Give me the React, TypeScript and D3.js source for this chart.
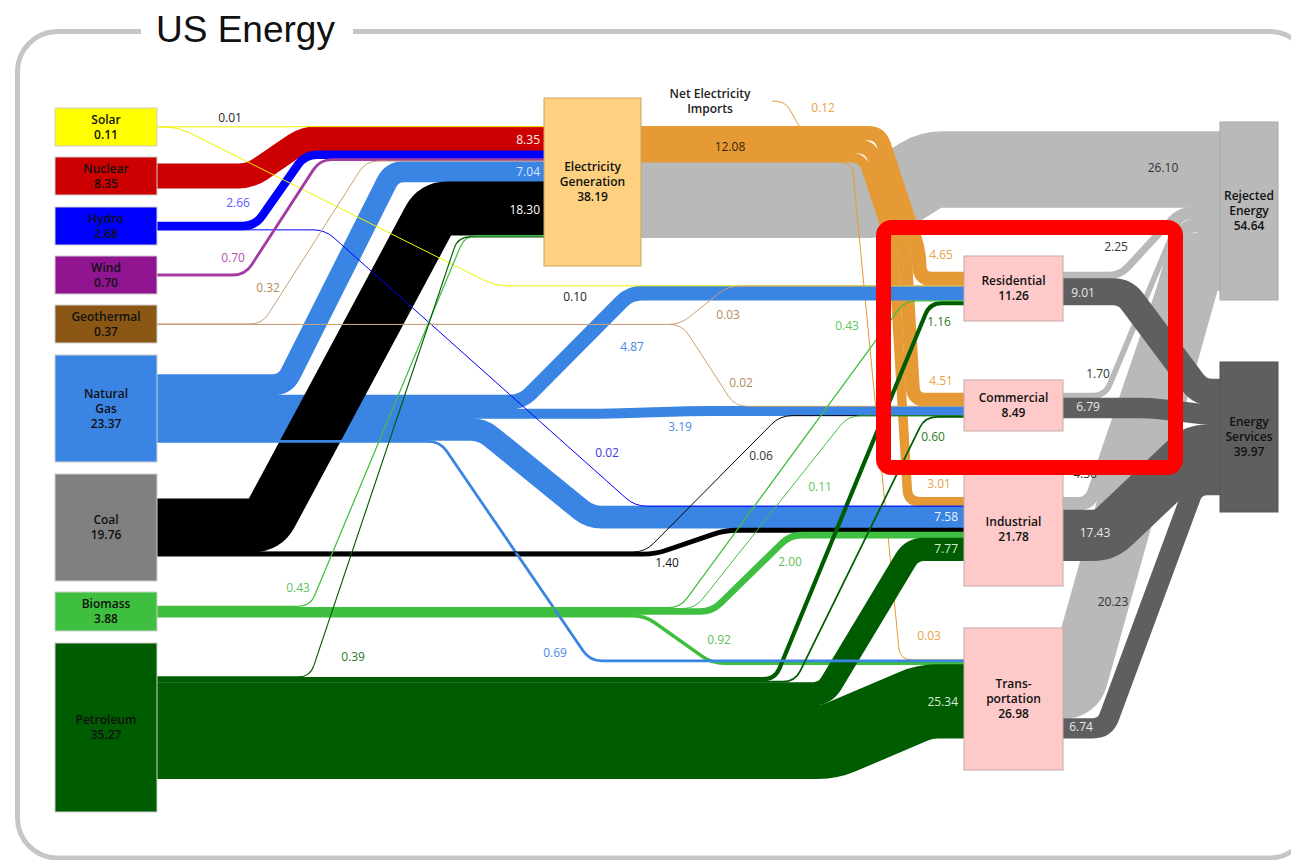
import { useEffect, useRef } from "react";
import * as d3 from "d3";

// quads
const sourceIds = ["solar", "nuclear", "hydro", "wind", "geo", "gas", "coal", "bio", "pet"];
const sourceLabels = [["Solar"], ["Nuclear"], ["Hydro"], ["Wind"], ["Geothermal"], ["Natural", "Gas"], ["Coal"], ["Biomass"], ["Petroleum"]];
const sourceTotals = [0.11, 8.35, 2.68, 0.7, 0.37, 23.37, 19.76, 3.88, 35.27];

const toElectricity = [0.01, 8.35, 2.66, 0.7, 0.32, 7.04, 18.3, 0.43, 0.39];
const toResidential = [0.1, 0, 0, 0, 0.03, 4.87, 0, 0.43, 1.16];
const toCommercial = [0, 0, 0, 0, 0.02, 3.19, 0.06, 0.11, 0.6];
const toIndustrial = [0, 0, 0.02, 0, 0, 7.58, 1.4, 2.0, 7.77];
const toTransportation = [0, 0, 0, 0, 0, 0.69, 0, 0.92, 25.34];

const sectorIds = ["res", "com", "ind", "trans"];
const sectorLabels = [["Residential"], ["Commercial"], ["Industrial"], ["Trans-", "portation"]];
const sectorTotals = [11.26, 8.49, 21.78, 26.98];
const electricityToSectors = [4.65, 4.51, 3.01, 0.03];
const sectorRejected = [2.25, 1.7, 4.36, 20.23];
const sectorServices = [9.01, 6.79, 17.43, 6.74];

const electricityTotal = 38.19;
const electricityRejected = 26.1;
const electricityDelivered = 12.08;
const netImports = 0.12;
const rejectedTotal = 54.64;
const servicesTotal = 39.97;

// layout
const W = 1291;
const H = 860;
const FONT = "'Open Sans', 'DejaVu Sans', sans-serif";
const SRC_X = [55, 157];
const SRC_Y = [[108, 146], [157, 195], [207, 245], [256, 294], [305, 343], [355, 462], [474, 581], [592, 631], [643, 812]];
const ELEC = { x0: 544, x1: 641, y0: 98, y1: 266 };
const SECTOR_X = [964, 1063];
const SECTOR_Y = [[256, 321], [380, 431], [472, 586], [628, 770]];
const SINK_X = [1220, 1278];
const REJ_Y = [122, 300];
const SERV_Y = [362, 512];

const sourceFill = ["#ffff00", "#cc0000", "#0000ff", "#911491", "#8b5714", "#3a85e3", "#808080", "#3fbf3f", "#005c00"];
const sourceFlow = ["#f0f000", "#cc0000", "#0000ff", "#a23ca2", "#c8a078", "#3a85e3", "#000000", "#3fbf3f", "#005c00"];
const sourceText = ["#222", "#fff0f0", "#5a5aff", "#b050b0", "#b48a5a", "#4a8ae6", "#222", "#5cc45c", "#2a7a2a"];
const ORANGE = "#e59a35";
const LIGHT_GRAY = "#b9b9b9";
const DARK_GRAY = "#5f5f5f";

// bend of each flow: x where it leaves its row, x where it reaches the next one,
// optionally a kink (x, y) in between
const ROUTES: Record<string, number[]> = {
  "solar-elec": [290, 300], "solar-res": [178, 495],
  "nuclear-elec": [250, 305],
  "hydro-elec": [255, 305], "hydro-ind": [325, 635],
  "wind-elec": [245, 320],
  "geo-elec": [262, 366], "geo-res": [680, 728], "geo-com": [682, 735],
  "gas-elec": [285, 392], "gas-res": [522, 630], "gas-com": [600, 700], "gas-ind": [482, 590], "gas-trans": [440, 590],
  "coal-elec": [265, 435], "coal-com": [645, 780], "coal-ind": [655, 725],
  "bio-elec": [310, 465], "bio-res": [680, 905], "bio-com": [695, 848], "bio-ind": [712, 790], "bio-trans": [645, 712],
  "pet-elec": [310, 458], "pet-res": [775, 930], "pet-com": [795, 925], "pet-ind": [825, 912], "pet-trans": [830, 925],
  "elec-res": [880, 920, 918.5, 250], "elec-com": [870.4, 913.5, 904.5, 250], "elec-ind": [862.5, 908, 893, 250],
  "elec-trans": [852, 900], "elec-rej": [882, 930],
  "res-rej": [1120, 1180], "res-serv": [1125, 1200],
  "com-rej": [1105, 1180], "com-serv": [1150, 1210],
  "ind-rej": [1090, 1185], "ind-serv": [1105, 1195],
  "trans-rej": [1075, 1195], "trans-serv": [1105, 1195],
};

// value label of each flow: centre x, centre y, anchor, colour
const LABELS: Record<string, [number, number, string?, string?]> = {
  "solar-elec": [230, 118], "solar-res": [575, 297],
  "nuclear-elec": [540, 140, "end"],
  "hydro-elec": [238, 203],
  "hydro-ind": [607, 453, "middle", "#3a3ae6"],
  "wind-elec": [233, 258],
  "geo-elec": [268, 288], "geo-res": [728, 315], "geo-com": [741, 383],
  "gas-elec": [540, 172, "end", "#d6e6ff"], "gas-res": [632, 347], "gas-com": [680, 427], "gas-ind": [958, 517, "end", "#eef4ff"], "gas-trans": [555, 653],
  "coal-elec": [540, 210, "end", "#ffffff"], "coal-com": [761, 456, "middle", "#333"], "coal-ind": [667, 563, "middle", "#111"],
  "bio-elec": [298, 588], "bio-res": [847, 326], "bio-com": [820, 487], "bio-ind": [790, 562], "bio-trans": [719, 640],
  "pet-elec": [353, 657], "pet-res": [939, 322], "pet-com": [933, 437], "pet-ind": [958, 549, "end", "#d8ecd8"], "pet-trans": [958, 702, "end", "#d8ecd8"],
  "elec-res": [941, 255], "elec-com": [941, 381], "elec-ind": [939, 484], "elec-trans": [929, 636], "elec-rej": [1163, 168, "middle", "#333"],
  "res-rej": [1116, 247], "res-serv": [1083, 293], "com-rej": [1098, 374], "com-serv": [1088, 407],
  "ind-rej": [1085, 474], "ind-serv": [1095, 533], "trans-rej": [1113, 602], "trans-serv": [1081, 727],
};

interface Flow { id: string; s: string; t: string; v: number; color: string; text: string; ys: number; yt: number; x0: number; x1: number; w: number; }

// polyline with rounded corners
function roundedPath(pts: [number, number][], r: number) {
  const n = pts.length;
  let d = `M${pts[0][0]},${pts[0][1]}`;
  for (let i = 1; i < n - 1; i++) {
    const [px, py] = pts[i - 1];
    const [cx, cy] = pts[i];
    const [nx, ny] = pts[i + 1];
    const lin = Math.hypot(cx - px, cy - py);
    const lout = Math.hypot(nx - cx, ny - cy);
    if (lin < 0.01 || lout < 0.01) continue;
    const availIn = i === 1 ? lin : lin / 2;
    const availOut = i === n - 2 ? lout : lout / 2;
    const rr = Math.min(r, availIn, availOut);
    const ix = (cx - px) / lin, iy = (cy - py) / lin;
    const ox = (nx - cx) / lout, oy = (ny - cy) / lout;
    d += `L${cx - ix * rr},${cy - iy * rr}Q${cx},${cy} ${cx + ox * rr},${cy + oy * rr}`;
  }
  d += `L${pts[n - 1][0]},${pts[n - 1][1]}`;
  return d;
}

export default function App() {
  const svgRef = useRef<SVGSVGElement>(null);

  useEffect(() => {
    document.body.style.margin = "0";
    if (!svgRef.current) return;
    const svg = d3.select(svgRef.current);
    svg.selectAll("*").remove();

    const k = d3.scaleLinear().domain([0, 1]).range([0, 2.9]);

    // node geometry
    const center: Record<string, number> = {};
    const rightX: Record<string, number> = {};
    const leftX: Record<string, number> = {};
    sourceIds.forEach((id, i) => { center[id] = (SRC_Y[i][0] + SRC_Y[i][1]) / 2; rightX[id] = SRC_X[1]; });
    center.elec = (ELEC.y0 + ELEC.y1) / 2; leftX.elec = ELEC.x0; rightX.elec = ELEC.x1;
    sectorIds.forEach((id, i) => { center[id] = (SECTOR_Y[i][0] + SECTOR_Y[i][1]) / 2; leftX[id] = SECTOR_X[0]; rightX[id] = SECTOR_X[1]; });
    center.rej = (REJ_Y[0] + REJ_Y[1]) / 2; leftX.rej = SINK_X[0];
    center.serv = (SERV_Y[0] + SERV_Y[1]) / 2; leftX.serv = SINK_X[0];

    // flows, in stacking order
    const flows: Flow[] = [];
    const add = (s: string, t: string, v: number, color: string, text: string) => {
      if (v > 0) flows.push({ id: `${s}-${t}`, s, t, v, color, text, ys: 0, yt: 0, x0: 0, x1: 0, w: 0 });
    };
    sectorIds.forEach((id, i) => add("elec", id, electricityToSectors[i], ORANGE, "#eaa24a"));
    add("elec", "rej", electricityRejected, LIGHT_GRAY, "#333");
    const bySector = [toResidential, toCommercial, toIndustrial, toTransportation];
    sourceIds.forEach((id, i) => {
      add(id, "elec", toElectricity[i], sourceFlow[i], sourceText[i]);
      sectorIds.forEach((sid, j) => add(id, sid, bySector[j][i], sourceFlow[i], sourceText[i]));
    });
    sectorIds.forEach((id, i) => {
      add(id, "rej", sectorRejected[i], LIGHT_GRAY, "#333");
      add(id, "serv", sectorServices[i], DARK_GRAY, "#e8e8e8");
    });

    const outCur: Record<string, number> = {};
    const inCur: Record<string, number> = {};
    Object.keys(center).forEach((id) => {
      const so = d3.sum(flows.filter((f) => f.s === id), (f) => f.v);
      const si = d3.sum(flows.filter((f) => f.t === id), (f) => f.v);
      outCur[id] = center[id] - k(so) / 2;
      inCur[id] = center[id] - k(si) / 2;
    });
    flows.forEach((f) => {
      const h = k(f.v);
      f.ys = outCur[f.s] + h / 2; outCur[f.s] += h;
      f.yt = inCur[f.t] + h / 2; inCur[f.t] += h;
      f.x0 = rightX[f.s]; f.x1 = leftX[f.t];
      // a little overlap hides the hairline seams between neighbouring bands
      f.w = h >= 2 ? h + 0.8 : Math.max(h, 1);
    });

    // frame + title
    svg.append("rect")
      .attr("x", 17.5).attr("y", 31.5).attr("width", 1292).attr("height", 826.5).attr("rx", 40)
      .attr("fill", "white").attr("stroke", "#c6c6c6").attr("stroke-width", 5);
    svg.append("rect").attr("x", 141).attr("y", 20).attr("width", 212).attr("height", 20).attr("fill", "white");
    svg.append("text")
      .attr("x", 156).attr("y", 42)
      .attr("font-family", "'Liberation Sans', Arial, sans-serif").attr("font-size", 37)
      .attr("fill", "#111").text("US Energy");

    const g = svg.append("g");
    const drawFlow = (f: Flow) => {
      const [xa, xb, xk, yk] = ROUTES[f.id];
      const pts: [number, number][] = [[f.x0, f.ys], [xa, f.ys]];
      if (xk !== undefined) pts.push([xk, yk]);
      pts.push([xb, f.yt], [f.x1, f.yt]);
      g.append("path")
        .attr("d", roundedPath(pts, 12))
        .attr("fill", "none")
        .attr("stroke", f.color)
        .attr("stroke-width", f.w);
    };

    flows.filter((f) => f.t === "rej").forEach(drawFlow);
    flows.filter((f) => f.t === "serv").forEach(drawFlow);
    flows.filter((f) => f.s === "elec" && f.t !== "rej").forEach(drawFlow);
    const fromSources = flows.filter((f) => sourceIds.includes(f.s));
    fromSources.filter((f) => f.w >= 3).forEach(drawFlow);
    fromSources.filter((f) => f.w < 3).forEach(drawFlow);

    // net electricity imports joining the delivered band
    const imp = d3.path();
    imp.moveTo(772, 101);
    imp.quadraticCurveTo(786, 101, 790, 110);
    imp.lineTo(800, 127.5);
    g.append("path").attr("d", imp.toString()).attr("fill", "none")
      .attr("stroke", ORANGE).attr("stroke-width", Math.max(k(netImports), 1));

    // nodes
    const nodeText = (cx: number, cy: number, lines: string[], color = "#111") => {
      const lh = 15;
      const t = svg.append("text")
        .attr("text-anchor", "middle").attr("font-family", FONT)
        .attr("font-size", 12).attr("font-weight", 600).attr("fill", color);
      lines.forEach((ln, i) => {
        t.append("tspan").attr("x", cx).attr("y", cy + (i - (lines.length - 1) / 2) * lh + 4).text(ln);
      });
    };
    const box = (x0: number, x1: number, y0: number, y1: number, fill: string, stroke: string) =>
      svg.append("rect").attr("x", x0).attr("y", y0).attr("width", x1 - x0).attr("height", y1 - y0)
        .attr("fill", fill).attr("stroke", stroke).attr("stroke-width", 1);

    sourceIds.forEach((_, i) => {
      box(SRC_X[0], SRC_X[1], SRC_Y[i][0], SRC_Y[i][1], sourceFill[i], "#d0d0d0");
      nodeText((SRC_X[0] + SRC_X[1]) / 2, center[sourceIds[i]], [...sourceLabels[i], sourceTotals[i].toFixed(2)]);
    });
    box(ELEC.x0, ELEC.x1, ELEC.y0, ELEC.y1, "#fdd17f", "#c9a463");
    nodeText((ELEC.x0 + ELEC.x1) / 2, center.elec, ["Electricity", "Generation", electricityTotal.toFixed(2)]);
    sectorIds.forEach((id, i) => {
      box(SECTOR_X[0], SECTOR_X[1], SECTOR_Y[i][0], SECTOR_Y[i][1], "#fdc9c9", "#c8a8a8");
      nodeText((SECTOR_X[0] + SECTOR_X[1]) / 2, center[id], [...sectorLabels[i], sectorTotals[i].toFixed(2)]);
    });
    box(SINK_X[0], SINK_X[1], REJ_Y[0], REJ_Y[1], LIGHT_GRAY, "#a8a8a8");
    nodeText((SINK_X[0] + SINK_X[1]) / 2, center.rej, ["Rejected", "Energy", rejectedTotal.toFixed(2)]);
    box(SINK_X[0], SINK_X[1], SERV_Y[0], SERV_Y[1], DARK_GRAY, "#555");
    nodeText((SINK_X[0] + SINK_X[1]) / 2, center.serv, ["Energy", "Services", servicesTotal.toFixed(2)]);

    // flow values
    flows.forEach((f) => {
      const spec = LABELS[f.id];
      if (!spec) return;
      const [x, y, anchor = "middle", color = f.text] = spec;
      svg.append("text")
        .attr("x", x).attr("y", y + 4).attr("text-anchor", anchor)
        .attr("font-family", FONT).attr("font-size", 12).attr("fill", color)
        .text(f.v.toFixed(2));
    });
    svg.append("text")
      .attr("x", 730).attr("y", 151).attr("text-anchor", "middle")
      .attr("font-family", FONT).attr("font-size", 12).attr("fill", "#3a2508")
      .text(electricityDelivered.toFixed(2));
    svg.append("text")
      .attr("x", 823).attr("y", 112).attr("text-anchor", "middle")
      .attr("font-family", FONT).attr("font-size", 12).attr("fill", "#eaa24a")
      .text(netImports.toFixed(2));
    nodeText(710, 101.5, ["Net Electricity", "Imports"], "#222");

    // highlight
    svg.append("rect")
      .attr("x", 883.5).attr("y", 227.5).attr("width", 292).attr("height", 240).attr("rx", 8)
      .attr("fill", "none").attr("stroke", "#ff0000").attr("stroke-width", 15);
  }, []);

  return <svg ref={svgRef} width={W} height={H} style={{ display: "block" }} />;
}
